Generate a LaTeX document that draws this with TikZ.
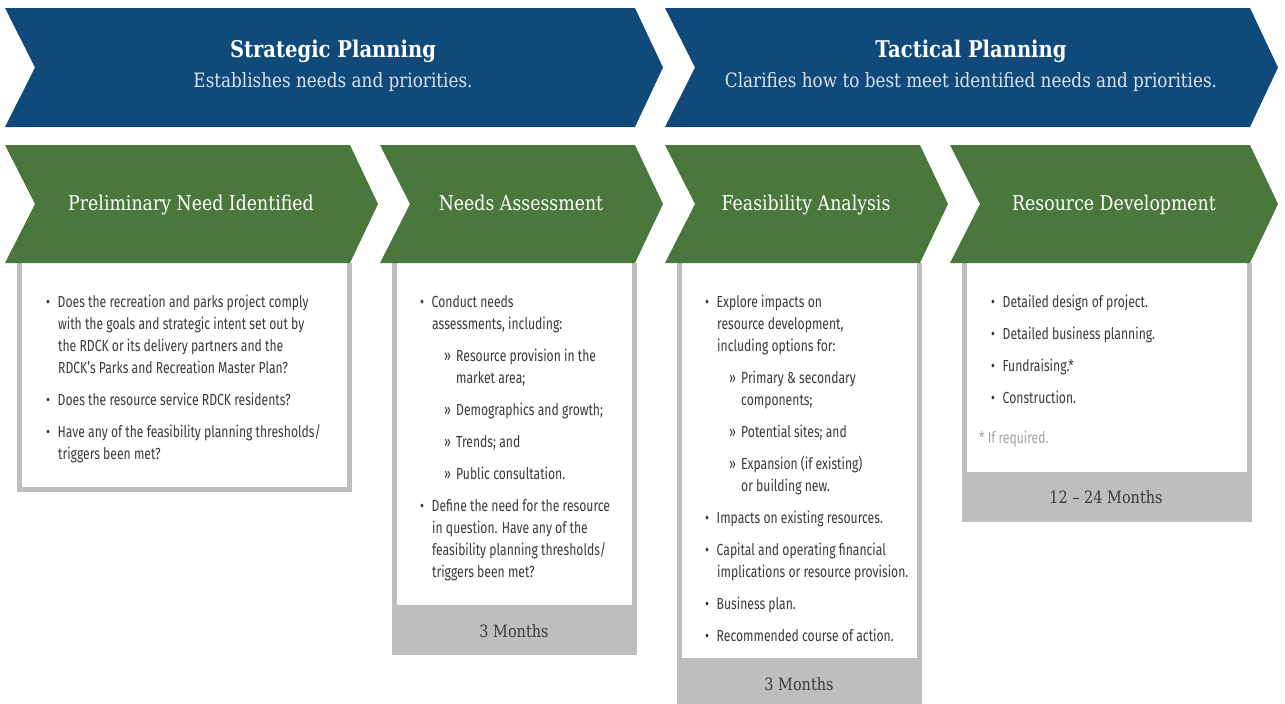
\documentclass[tikz,border=0pt]{standalone}
\usepackage{fontspec}
\setmainfont{Fira Sans}[FakeStretch=0.76]
\newfontfamily\slab{DejaVu Serif}[FakeStretch=0.85]
\usetikzlibrary{calc}

\definecolor{planblue}{HTML}{0F4A7B}
\definecolor{stagegreen}{HTML}{4A773B}
\definecolor{framegray}{HTML}{BDBEC0}
\definecolor{bodytext}{HTML}{3A3A3A}
\definecolor{notegray}{HTML}{A3A3A3}
\definecolor{subtext}{HTML}{DCE3EC}

% bullet, sub-bullet and hanging indent
\newcommand{\bul}{\makebox[11.5pt][l]{•}}
\newcommand{\subbul}{\makebox[12pt][l]{»}}
\newcommand{\ind}{\makebox[12pt]{}}

% chevron: colour, left x, right x, top y, bottom y
\newcommand{\chevron}[5]{%
  \fill[#1] (#2,#4) -- (#3,#4) -- (#3+28,{(#4+#5)/2}) -- (#3,#5) -- (#2,#5)
    -- (#2+30,{(#4+#5)/2}) -- cycle;}

\tikzset{
  phase title/.style={anchor=base, text=white, font=\slab\bfseries\fontsize{23}{26}\selectfont},
  phase sub/.style={anchor=base, text=subtext, font=\slab\fontsize{19.8}{22}\selectfont},
  stage title/.style={anchor=base, text=white, font=\slab\fontsize{20.4}{22}\selectfont},
  body/.style={anchor=north west, inner sep=0pt, align=left, text=bodytext,
    font=\fontsize{16}{22}\selectfont},
  duration/.style={anchor=base, text=bodytext, font=\slab\fontsize{17}{20}\selectfont},
}

\begin{document}
\begin{tikzpicture}[x=1pt, y=-1pt]
    \useasboundingbox (0,0) rectangle (1285,704);

    % Frames below the stages
    \fill[framegray] (17,263) rectangle (352,492);
    \fill[white] (22,263) rectangle (347,487);
    \fill[framegray] (392,263) rectangle (637,655);
    \fill[white] (397,263) rectangle (632,605);
    \fill[framegray] (677,263) rectangle (922,704);
    \fill[white] (682,263) rectangle (917,658);
    \fill[framegray] (962,263) rectangle (1252,522);
    \fill[white] (967,263) rectangle (1247,472);

    % Planning phases
    \chevron{planblue}{5}{635}{8}{127}
    \chevron{planblue}{665}{1250}{8}{127}
    \node[phase title] (strategic) at (333,57) {Strategic Planning};
    \node[phase sub] (strategic-sub) at (333,87) {Establishes needs and priorities.};
    \node[phase title] (tactical) at (971,57) {Tactical Planning};
    \node[phase sub] (tactical-sub) at (971,87) {Clarifies how to best meet identified needs and priorities.};

    % Stages
    \foreach \xa/\xb/\xm/\id/\txt in {5/350/191/prelim/Preliminary Need Identified,
        380/635/521/needs/Needs Assessment,
        665/920/806/feas/Feasibility Analysis,
        950/1250/1114/resdev/Resource Development} {
        \chevron{stagegreen}{\xa}{\xb}{145}{263}
        \node[stage title] (\id) at (\xm,210) {\txt};
    }

    % Stage contents
    \node[body] (prelim-body) at (46,291.6) {\strut\bul Does the recreation and parks project comply\\
        \ind with the goals and strategic intent set out by\\
        \ind the RDCK or its delivery partners and the\\
        \ind RDCK’s Parks and Recreation Master Plan?\\[10pt]
        \bul Does the resource service RDCK residents?\\[10pt]
        \bul Have any of the feasibility planning thresholds/\\
        \ind triggers been met?};

    \node[body] (needs-body) at (420,291.6) {\strut\bul Conduct needs\\
        \ind assessments, including:\\[10pt]
        \ind\ind\subbul Resource provision in the\\
        \ind\ind\ind market area;\\[10pt]
        \ind\ind\subbul Demographics and growth;\\[10pt]
        \ind\ind\subbul Trends; and\\[10pt]
        \ind\ind\subbul Public consultation.\\[10pt]
        \bul Define the need for the resource\\
        \ind in question. Have any of the\\
        \ind feasibility planning thresholds/\\
        \ind triggers been met?};

    \node[body] (feas-body) at (705,291.6) {\strut\bul Explore impacts on\\
        \ind resource development,\\
        \ind including options for:\\[10pt]
        \ind\ind\subbul Primary \& secondary\\
        \ind\ind\ind components;\\[10pt]
        \ind\ind\subbul Potential sites; and\\[10pt]
        \ind\ind\subbul Expansion (if existing)\\
        \ind\ind\ind or building new.\\[10pt]
        \bul Impacts on existing resources.\\[10pt]
        \bul Capital and operating financial\\
        \ind implications or resource provision.\\[10pt]
        \bul Business plan.\\[10pt]
        \bul Recommended course of action.};

    \node[body] (resdev-body) at (991,291.6) {\strut\bul Detailed design of project.\\[10pt]
        \bul Detailed business planning.\\[10pt]
        \bul Fundraising.*\\[10pt]
        \bul Construction.};
    \node[body, text=notegray] (resdev-note) at (979,427.6) {\strut* If required.};

    % Durations
    \node[duration] (needs-time) at (514,637) {3 Months};
    \node[duration] (feas-time) at (799,690) {3 Months};
    \node[duration] (resdev-time) at (1106,503) {12 – 24 Months};
\end{tikzpicture}
\end{document}
